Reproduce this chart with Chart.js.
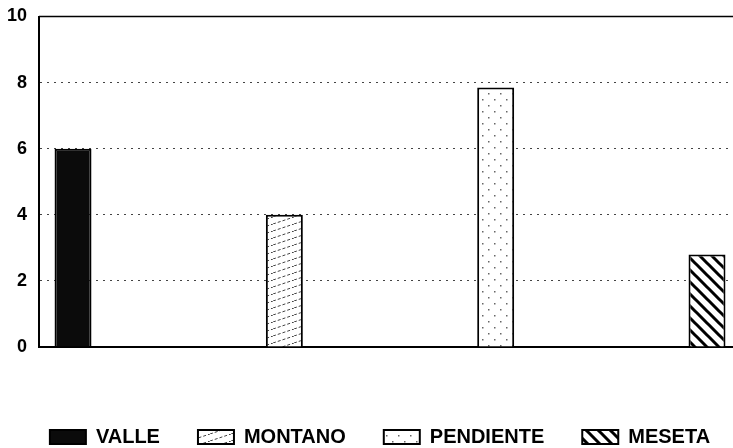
<!DOCTYPE html>
<html lang="es">
<head>
<meta charset="UTF-8">
<title>Unidades fisiográficas</title>
<script src="https://cdn.jsdelivr.net/npm/chart.js"></script>
<style>
  body { margin: 0; background: #fff; }
  #marco { width: 733px; height: 448px; }
</style>
</head>
<body>
<div id="marco"><canvas id="grafico"></canvas></div>
<script>
// datos
const categorias = ['VALLE', 'MONTANO', 'PENDIENTE', 'MESETA'];
const valores = [6, 4, 7.85, 2.8];
const ticksY = [0, 2, 4, 6, 8, 10];

// tramas de relleno
function trama(w, h, dibujar) {
  const c = document.createElement('canvas');
  c.width = w; c.height = h;
  const g = c.getContext('2d');
  dibujar(g, w, h);
  return g.createPattern(c, 'repeat');
}
const ctx = document.getElementById('grafico').getContext('2d');

const rellenos = [
  '#0b0b0b',
  trama(21, 7, (g, w, h) => {
    g.fillStyle = '#fff'; g.fillRect(0, 0, w, h);
    g.strokeStyle = '#444'; g.lineWidth = 1;
    g.setLineDash([3, 2]);
    g.beginPath(); g.moveTo(0, h); g.lineTo(w, 0); g.stroke();
  }),
  trama(12, 12, (g, w, h) => {
    g.fillStyle = '#fff'; g.fillRect(0, 0, w, h);
    g.fillStyle = '#666';
    g.fillRect(2, 3, 1.5, 1.5);
    g.fillRect(8, 9, 1.5, 1.5);
  }),
  trama(12, 12, (g, w, h) => {
    g.fillStyle = '#fff'; g.fillRect(0, 0, w, h);
    g.strokeStyle = '#000'; g.lineWidth = 3;
    g.beginPath();
    g.moveTo(-2, -2); g.lineTo(w + 2, h + 2);
    g.moveTo(-2, h - 2); g.lineTo(2, h + 2);
    g.moveTo(w - 2, -2); g.lineTo(w + 2, 2);
    g.stroke();
  })
];

const conjuntos = categorias.map((nombre, i) => ({
  label: nombre,
  data: [{ x: i, y: valores[i] }],
  backgroundColor: rellenos[i],
  borderColor: '#000',
  borderWidth: 2,
  grouped: false,
  categoryPercentage: 1,
  barPercentage: 0.175
}));

// leyenda en una sola fila, un poco corrida a la derecha
const ajusteLeyenda = {
  id: 'ajusteLeyenda',
  beforeInit(chart) {
    const fitOriginal = chart.legend.fit;
    chart.legend.fit = function () {
      this.maxWidth = 760;
      fitOriginal.call(this);
      this.height = 59;
    };
  },
  afterLayout(chart) {
    chart.legend.left = 0;
    chart.legend.right = 760;
  }
};

// línea superior del marco
const marcoSuperior = {
  id: 'marcoSuperior',
  afterDraw(chart) {
    const { left, right, top } = chart.chartArea;
    const c = chart.ctx;
    c.save();
    c.strokeStyle = '#000';
    c.lineWidth = 1.5;
    c.beginPath();
    c.moveTo(left, top);
    c.lineTo(right, top);
    c.stroke();
    c.restore();
  }
};

new Chart(ctx, {
  type: 'bar',
  data: { datasets: conjuntos },
  plugins: [ajusteLeyenda, marcoSuperior],
  options: {
    responsive: true,
    maintainAspectRatio: false,
    animation: false,
    layout: { padding: { left: 0, right: 0, top: 2, bottom: 0 } },
    plugins: {
      tooltip: { enabled: false },
      legend: {
        position: 'bottom',
        labels: {
          boxWidth: 36,
          boxHeight: 14,
          padding: 38,
          color: '#000',
          font: { family: 'Arial', size: 20, weight: 'bold' }
        }
      }
    },
    scales: {
      x: {
        type: 'linear',
        offset: false,
        min: -0.161,
        max: 3.123,
        afterBuildTicks(s) { s.ticks = categorias.map((c, i) => ({ value: i })); },
        ticks: { display: false },
        grid: { display: false },
        border: { display: true, color: '#000', width: 2 },
        afterFit(s) { s.height = 42; }
      },
      y: {
        min: 0,
        max: 10,
        afterBuildTicks(s) { s.ticks = ticksY.map(v => ({ value: v })); },
        ticks: {
          padding: 12,
          color: '#000',
          font: { family: 'Arial', size: 18, weight: 'bold', lineHeight: 0.5 }
        },
        grid: {
          drawTicks: false,
          color: c => (c.tick && (c.tick.value === 0 || c.tick.value === 10)) ? 'rgba(0,0,0,0)' : '#444',
          lineWidth: 1
        },
        border: { display: true, color: '#000', width: 2, dash: [2, 5] },
        afterFit(s) { s.width = 39; }
      }
    }
  }
});
</script>
</body>
</html>
